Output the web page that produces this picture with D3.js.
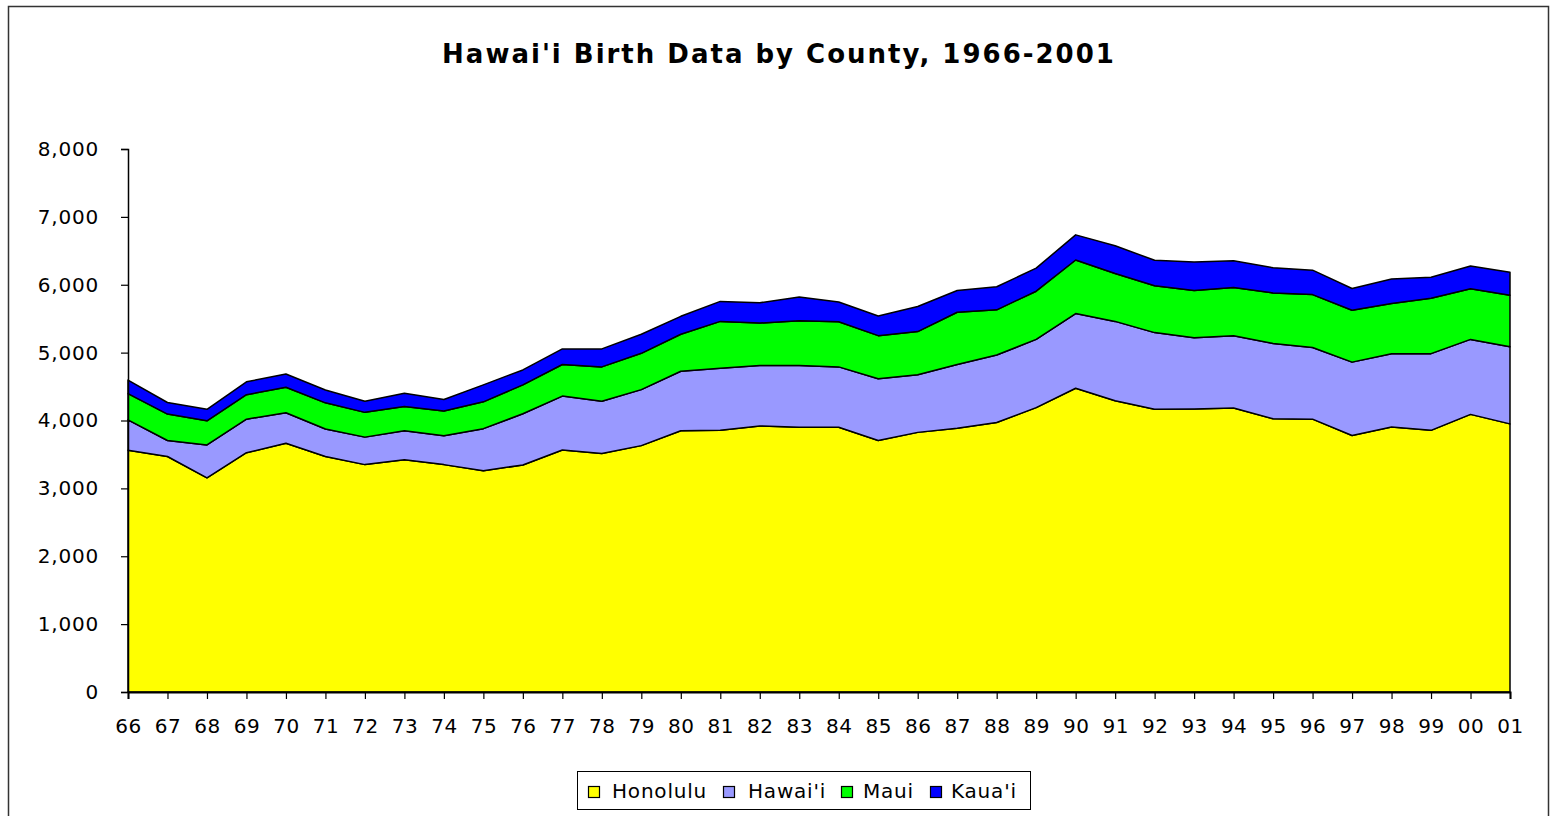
<!DOCTYPE html>
<html><head><meta charset="utf-8">
<script src="https://cdn.jsdelivr.net/npm/d3@7"></script>
<style>html,body{margin:0;padding:0;background:#fff;}svg{display:block;}</style>
</head><body>
<script>
const years = ["66","67","68","69","70","71","72","73","74","75","76","77","78","79","80","81","82","83","84","85","86","87","88","89","90","91","92","93","94","95","96","97","98","99","00","01"];
const honolulu = [3560,3470,3155,3525,3665,3470,3350,3420,3350,3260,3345,3565,3515,3630,3850,3855,3920,3900,3900,3705,3825,3885,3970,4190,4475,4290,4165,4170,4185,4025,4020,3780,3905,3855,4090,3950];
const hawaii   = [450,235,485,495,450,405,405,430,425,620,755,795,770,825,875,915,890,910,890,910,850,940,995,1005,1100,1170,1130,1050,1065,1110,1055,1080,1080,1130,1105,1135];
const maui     = [385,390,355,360,375,385,365,355,365,395,425,465,505,535,545,690,625,660,665,635,635,770,665,710,790,705,690,695,710,745,780,765,740,815,745,760];
const kauai    = [200,170,170,190,195,190,165,195,170,250,220,230,265,280,265,295,300,350,290,290,370,320,340,340,370,410,375,420,395,370,360,320,360,310,335,340];
const seriesNames = ["Honolulu","Hawai'i","Maui","Kaua'i"];
const seriesColors = ["#ffff00","#9999ff","#00ff00","#0000ff"];
const yTicks = [0,1000,2000,3000,4000,5000,6000,7000,8000];
const title = "Hawai'i Birth Data by County, 1966-2001";

const W = 1552, H = 816;
const svg = d3.select("body").append("svg").attr("width", W).attr("height", H);
const FONT = "'DejaVu Sans', Verdana, sans-serif";

// outer frame
svg.append("rect").attr("x",8.5).attr("y",6.5).attr("width",1540).attr("height",830)
  .attr("fill","#fff").attr("stroke","#333").attr("stroke-width",1.5);

svg.append("text").attr("x",779).attr("y",63).attr("text-anchor","middle")
  .attr("font-family",FONT).attr("font-weight","bold").attr("font-size",26)
  .style("letter-spacing","2px").attr("fill","#000").text(title);

const x = d3.scalePoint().domain(years).range([128,1510]).padding(0);
const y = d3.scaleLinear().domain([0,8000]).range([692,149]);

const rows = years.map((yr,i)=>({year:yr, h0:honolulu[i], h1:hawaii[i], h2:maui[i], h3:kauai[i]}));
const keys = ["h0","h1","h2","h3"];
const stacked = d3.stack().keys(keys)(rows);

const area = d3.area().x(d=>x(d.data.year)).y0(d=>y(d[0])).y1(d=>y(d[1]));
svg.append("g").selectAll("path").data(stacked).join("path")
  .attr("d",area).attr("fill",(d,i)=>seriesColors[i])
  .attr("stroke","#000").attr("stroke-width",1.5).attr("stroke-linejoin","round");

// y axis
const yAxis = svg.append("g").attr("transform","translate(128,0)")
  .call(d3.axisLeft(y).tickValues(yTicks).tickSize(7).tickPadding(22).tickFormat(d3.format(",")));
yAxis.select(".domain").attr("stroke","#000").attr("stroke-width",1.5);
yAxis.selectAll(".tick line").attr("stroke","#000").attr("stroke-width",1.2);
yAxis.selectAll("text").attr("font-family",FONT).attr("font-size",20).attr("fill","#000")
  .style("letter-spacing","0.8px");

// x axis
const xAxis = svg.append("g").attr("transform","translate(0,692)")
  .call(d3.axisBottom(x).tickSize(7).tickPadding(20));
xAxis.select(".domain").attr("stroke","#000").attr("stroke-width",2);
xAxis.selectAll(".tick line").attr("stroke","#000").attr("stroke-width",1.2);
xAxis.selectAll("text").attr("font-family",FONT).attr("font-size",20).attr("fill","#000")
  .style("letter-spacing","0.5px");

// legend
const lg = svg.append("g");
lg.append("rect").attr("x",577.5).attr("y",771.5).attr("width",453).attr("height",38)
  .attr("fill","#fff").attr("stroke","#000").attr("stroke-width",1);
const swX = [588,723,841,930];
const txX = [612,748,863,951];
seriesNames.forEach((n,i)=>{
  lg.append("rect").attr("x",swX[i]+0.5).attr("y",786.5).attr("width",11).attr("height",11)
    .attr("fill",seriesColors[i]).attr("stroke","#000").attr("stroke-width",1.2);
  lg.append("text").attr("x",txX[i]).attr("y",798).attr("font-family",FONT).attr("font-size",20)
    .style("letter-spacing","0.8px").attr("fill","#000").text(n);
});
</script>
</body></html>
